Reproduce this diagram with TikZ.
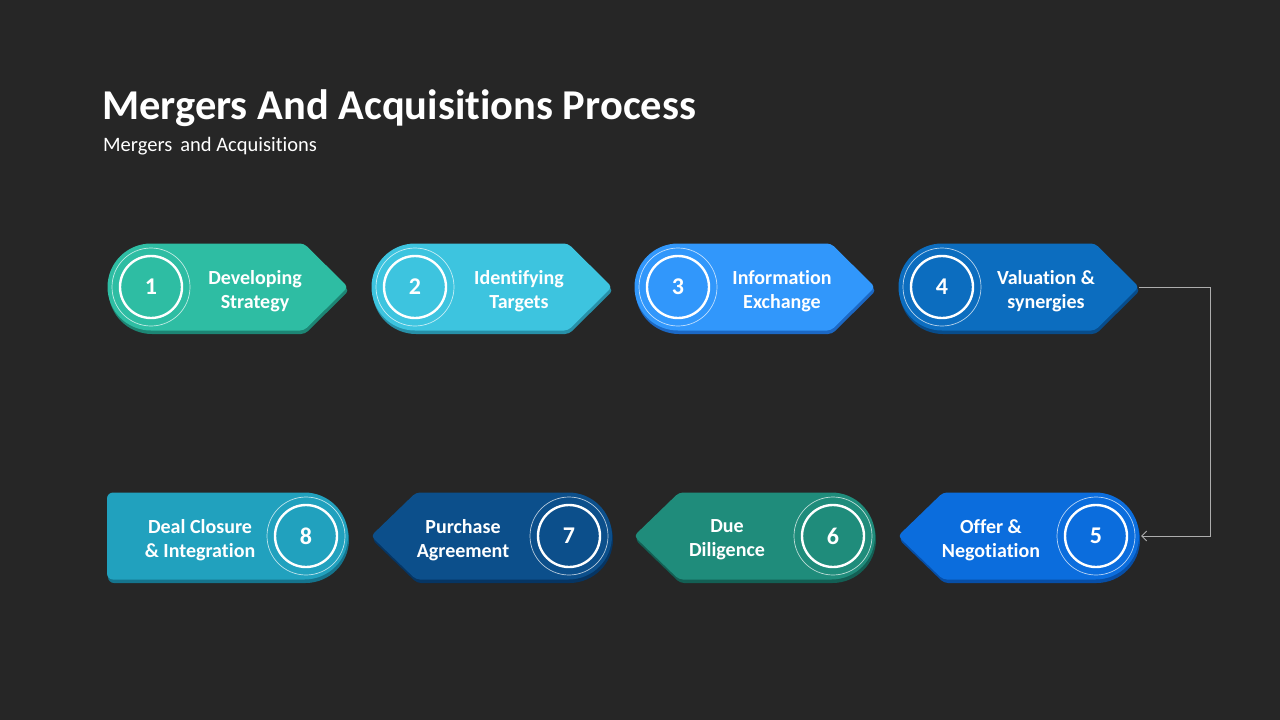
\documentclass[tikz,border=0pt]{standalone}
\usepackage{fontspec}
\setmainfont{Carlito}[Ligatures={NoCommon,NoRare}]
\usetikzlibrary{arrows.meta}
\definecolor{bg}{HTML}{262626}
\definecolor{c1}{HTML}{2EBDA3}\definecolor{d1}{HTML}{1D8574}
\definecolor{c2}{HTML}{3DC4DF}\definecolor{d2}{HTML}{2790A8}
\definecolor{c3}{HTML}{3197FB}\definecolor{d3}{HTML}{1C68C4}
\definecolor{c4}{HTML}{0C6DBF}\definecolor{d4}{HTML}{084C8A}
\definecolor{c5}{HTML}{0B6DDD}\definecolor{d5}{HTML}{074EA6}
\definecolor{c6}{HTML}{1F8C7B}\definecolor{d6}{HTML}{135F54}
\definecolor{c7}{HTML}{0C4F8B}\definecolor{d7}{HTML}{063563}
\definecolor{c8}{HTML}{21A1BE}\definecolor{d8}{HTML}{15748D}
\tikzset{
  lbl/.style={text=white, font=\bfseries\fontsize{20}{24}\selectfont, align=center, inner sep=0pt},
  num/.style={circle, draw=white, line width=2.4pt, minimum size=62pt, inner sep=0pt, text=white, font=\bfseries\fontsize{24}{28}\selectfont},
  ring/.style={draw=white, draw opacity=0.7, line width=0.7pt},
  link/.style={draw=white!62!bg, line width=0.9pt},
}
% row 1 shape: rounded left, pointed right
\newcommand\TopShape[3]{\path[#3] (#1+44,#2-43.5) [rounded corners=4pt] -- (#1+197,#2-43.5) -- (#1+241,#2) -- (#1+197,#2+43.5) [sharp corners] -- (#1+44,#2+43.5) arc[start angle=90,end angle=270,radius=43.5] -- cycle;}
% row 2 shape: pointed left, rounded right
\newcommand\BotShape[3]{\path[#3] (#1+197.5,#2+43.5) [rounded corners=4pt] -- (#1+45,#2+43.5) -- (#1,#2) -- (#1+45,#2-43.5) [sharp corners] -- (#1+197.5,#2-43.5) arc[start angle=-90,end angle=90,radius=43.5] -- cycle;}
% row 2 last shape: squared left, rounded right
\newcommand\EndShape[3]{\path[#3] (#1+197.5,#2+43.5) [rounded corners=6pt] -- (#1,#2+43.5) -- (#1,#2-43.5) [sharp corners] -- (#1+197.5,#2-43.5) arc[start angle=-90,end angle=90,radius=43.5] -- cycle;}
\begin{document}
\begin{tikzpicture}[x=1pt,y=-1pt]
\useasboundingbox[fill=bg] (0,0) rectangle (1280,720);
\node[anchor=base west, text=white, font=\bfseries\fontsize{42.5}{48}\selectfont, inner sep=0pt] (title) at (102,119) {Mergers And Acquisitions Process};
\node[anchor=base west, text=white, font=\fontsize{20.5}{24}\selectfont, inner sep=0pt] (subtitle) at (103,151.5) {Mergers\, and Acquisitions};

% ---- row 1
\TopShape{108}{290.5}{fill=d1}\TopShape{107}{287}{fill=c1}
\TopShape{372}{290.5}{fill=d2}\TopShape{371}{287}{fill=c2}
\TopShape{635}{290.5}{fill=d3}\TopShape{634}{287}{fill=c3}
\TopShape{899}{290.5}{fill=d4}\TopShape{898}{287}{fill=c4}
\foreach \i/\x in {1/151,2/415,3/678,4/942}{
  \draw[ring] (\x,287) circle (39);
  \node[num] (n\i) at (\x,287) {\i};
}
\node[lbl] (t1) at (255,291) {Developing\\Strategy};
\node[lbl] (t2) at (519,291) {Identifying\\Targets};
\node[lbl] (t3) at (782,291) {Information\\Exchange};
\node[lbl] (t4) at (1046,291) {Valuation \&\\synergies};

% ---- row 2
\BotShape{899}{539.5}{fill=d5}\BotShape{898}{536}{fill=c5}
\BotShape{635}{539.5}{fill=d6}\BotShape{634}{536}{fill=c6}
\BotShape{372}{539.5}{fill=d7}\BotShape{371}{536}{fill=c7}
\EndShape{108}{539.5}{fill=d8}\EndShape{107}{536}{fill=c8}
\foreach \i/\x in {5/1096,6/833,7/569,8/306}{
  \draw[ring] (\x,536) circle (39);
  \node[num] (n\i) at (\x,536) {\i};
}
\node[lbl] (t5) at (991,540) {Offer \&\\Negotiation};
\node[lbl] (t6) at (727,540) {Due\\Diligence};
\node[lbl] (t7) at (463,540) {Purchase\\Agreement};
\node[lbl] (t8) at (200,540) {Deal Closure\\\& Integration};

% ---- connector
\coordinate (tip4) at (1139,287);
\coordinate (bend) at (1210,287);
\coordinate (end5) at (1141,536);
\draw[link, -{Straight Barb[length=5pt,width=10pt]}] (tip4) -- (bend) |- (end5);
\end{tikzpicture}
\end{document}
